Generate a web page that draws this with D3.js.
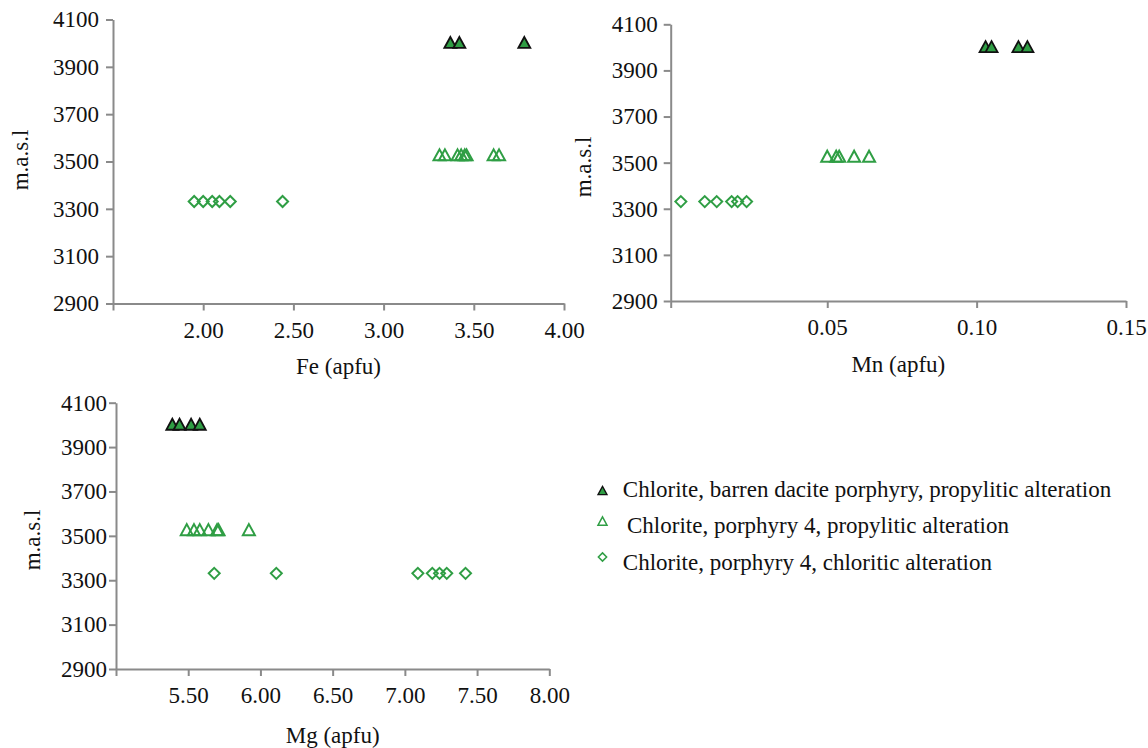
<!DOCTYPE html>
<html><head><meta charset="utf-8">
<script src="https://cdn.jsdelivr.net/npm/d3@7"></script>
<style>
html,body{margin:0;padding:0;background:#fff;}
svg{display:block;}
svg text{fill:#111;}
</style></head>
<body>
<svg id="c" width="1148" height="748"></svg>
<script>
// ---- data ----
const elevationTicks = [2900, 3100, 3300, 3500, 3700, 3900, 4100];
const seriesNames = [
  "Chlorite, barren dacite porphyry, propylitic alteration",
  "Chlorite, porphyry 4, propylitic alteration",
  "Chlorite, porphyry 4, chloritic alteration"
];
const elevBarren = 4003;
const elevPropylitic = 3528;
const elevChloritic = 3331;

const feBarren = [3.37, 3.42, 3.78];
const fePropylitic = [3.31, 3.34, 3.41, 3.43, 3.45, 3.46, 3.61, 3.64];
const feChloritic = [1.95, 2.00, 2.05, 2.09, 2.15, 2.44];
const feTicks = [2.0, 2.5, 3.0, 3.5, 4.0];

const mnBarren = [0.103, 0.105, 0.114, 0.117];
const mnPropylitic = [0.050, 0.053, 0.054, 0.059, 0.064];
const mnChloritic = [0.001, 0.009, 0.013, 0.018, 0.020, 0.023];
const mnTicks = [0.05, 0.10, 0.15];

const mgBarren = [5.39, 5.44, 5.52, 5.58];
const mgPropylitic = [5.49, 5.54, 5.58, 5.64, 5.70, 5.71, 5.92];
const mgChloritic = [5.68, 6.11, 7.09, 7.19, 7.24, 7.29, 7.42];
const mgTicks = [5.5, 6.0, 6.5, 7.0, 7.5, 8.0];

// ---- drawing ----
const FONT = "'Liberation Serif','Times New Roman',Times,'Nimbus Roman','Nimbus Roman No9 L',FreeSerif,'Noto Serif','DejaVu Serif',serif";
const svg = d3.select("#c");
const AX = "#8a8a8a", GREEN = "#2f9e44", FS = 23;

function triPath(w, h){ return `M0,${-h/2}L${w/2},${h/2}L${-w/2},${h/2}Z`; }
function diaPath(w, h){ return `M0,${-h/2}L${w/2},0L0,${h/2}L${-w/2},0Z`; }

function drawMarker(g, kind, x, y, s){
  s = s || 1;
  if(kind === 0){
    g.append("path").attr("d", triPath(12*s, 11*s)).attr("transform", `translate(${x},${y})`)
      .attr("fill", GREEN).attr("stroke", "#111").attr("stroke-width", 1.8*s);
  } else if(kind === 1){
    g.append("path").attr("d", triPath(12*s, 11*s)).attr("transform", `translate(${x},${y})`)
      .attr("fill", "none").attr("stroke", GREEN).attr("stroke-width", 2*s);
  } else {
    g.append("path").attr("d", diaPath(11*s, 11*s)).attr("transform", `translate(${x},${y})`)
      .attr("fill", "none").attr("stroke", GREEN).attr("stroke-width", 2*s);
  }
}

function panel(cfg){
  const x = d3.scaleLinear().domain(cfg.xDomain).range([cfg.x0, cfg.x1]);
  const y = d3.scaleLinear().domain([2900, 4100]).range([cfg.yb, cfg.yt]);
  const g = svg.append("g");

  const yAxis = g.append("g").attr("transform", `translate(${cfg.x0},0)`)
    .call(d3.axisLeft(y).tickValues(elevationTicks).tickSize(7).tickSizeOuter(0).tickPadding(cfg.yPad).tickFormat(d3.format("d")));
  const xAxis = g.append("g").attr("transform", `translate(0,${cfg.yb})`)
    .call(d3.axisBottom(x).tickValues([cfg.xDomain[0]].concat(cfg.ticks)).tickSize(7).tickSizeOuter(0).tickPadding(11)
      .tickFormat(d => d === cfg.xDomain[0] ? "" : d3.format(".2f")(d)));
  [yAxis, xAxis].forEach(a => {
    a.attr("font-family", FONT).attr("font-size", FS);
    a.select(".domain").attr("stroke", AX).attr("stroke-width", 2);
    a.selectAll(".tick line").attr("stroke", AX).attr("stroke-width", 2);
    a.selectAll(".tick text").attr("fill", "#111");
  });

  g.append("text").attr("x", (cfg.x0 + cfg.x1)/2).attr("y", cfg.titleY)
    .attr("text-anchor", "middle").attr("font-family", FONT).attr("font-size", FS).text(cfg.title);
  g.append("text").attr("transform", `translate(${cfg.yTitleX},${cfg.yTitleY}) rotate(-90)`)
    .attr("text-anchor", "middle").attr("font-family", FONT).attr("font-size", FS).text("m.a.s.l");

  const pts = g.append("g");
  cfg.series[2].forEach(v => drawMarker(pts, 2, x(v), y(elevChloritic)));
  cfg.series[1].forEach(v => drawMarker(pts, 1, x(v), y(elevPropylitic)));
  cfg.series[0].forEach(v => drawMarker(pts, 0, x(v), y(elevBarren)));
}

panel({xDomain:[1.5, 4.0], ticks: feTicks, x0:113, x1:564, yt:19.5, yb:303.5, yPad:7,
  title:"Fe (apfu)", titleY:374, yTitleX:28, yTitleY:160,
  series:[feBarren, fePropylitic, feChloritic]});
panel({xDomain:[-0.0024, 0.15], ticks: mnTicks, x0:670.7, x1:1126, yt:24.3, yb:301, yPad:6,
  title:"Mn (apfu)", titleY:372, yTitleX:591, yTitleY:167,
  series:[mnBarren, mnPropylitic, mnChloritic]});
panel({xDomain:[5.0, 8.0], ticks: mgTicks, x0:116, x1:549.3, yt:402.7, yb:669, yPad:2,
  title:"Mg (apfu)", titleY:743, yTitleX:40, yTitleY:540,
  series:[mgBarren, mgPropylitic, mgChloritic]});

// legend
const leg = svg.append("g");
const legRows = [{my:490.5, ty:497, tx:622.8}, {my:521, ty:532.5, tx:627}, {my:557, ty:570, tx:622.8}];
seriesNames.forEach((name, i) => {
  drawMarker(leg, i, 602.5, legRows[i].my, 0.75);
  leg.append("text").attr("x", legRows[i].tx).attr("y", legRows[i].ty)
    .attr("font-family", FONT).attr("font-size", FS).text(name);
});
</script>
</body></html>
